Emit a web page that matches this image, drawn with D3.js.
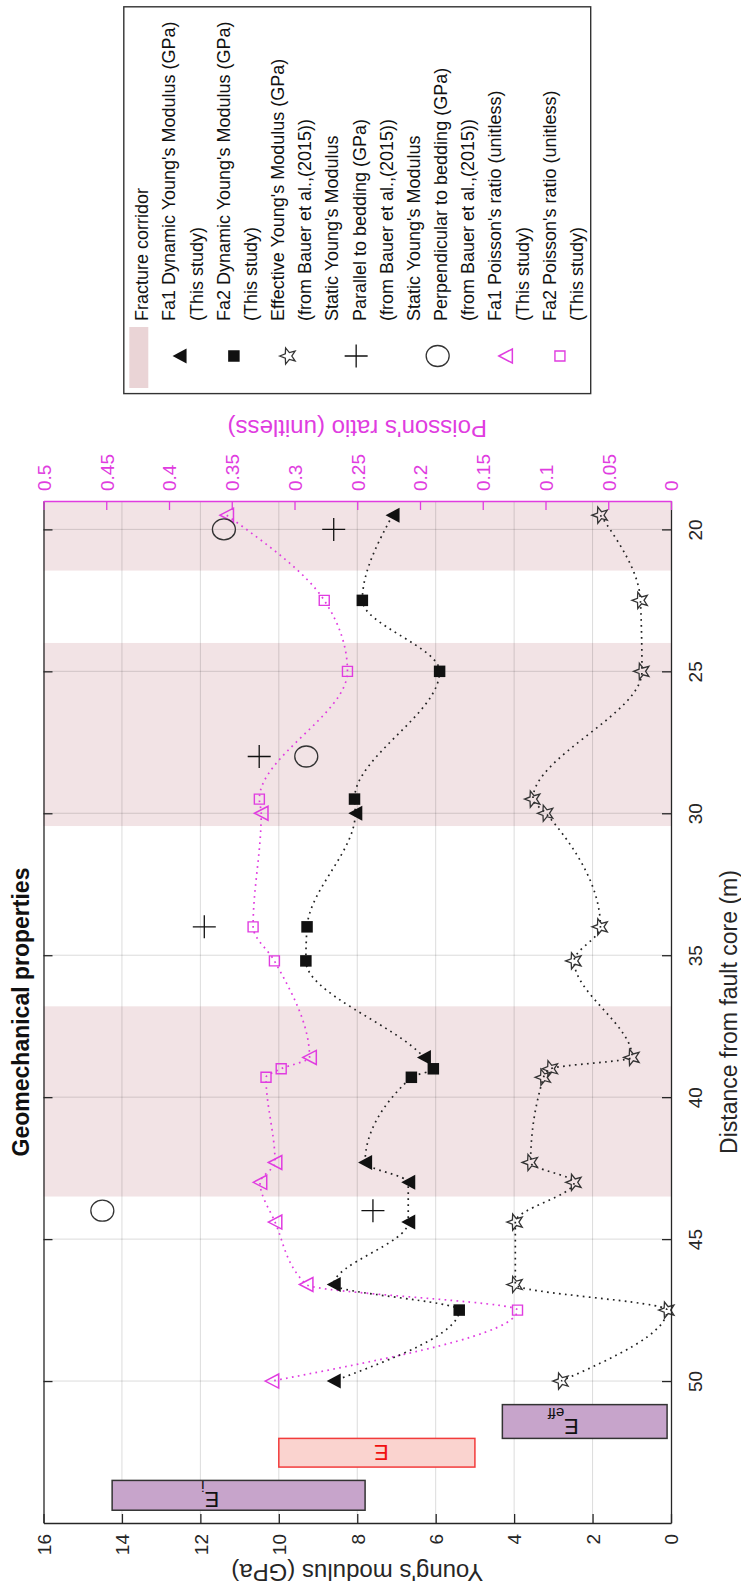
<!DOCTYPE html>
<html>
<head>
<meta charset="utf-8">
<script src="https://cdn.jsdelivr.net/npm/d3@7"></script>
<style>
  html, body { margin: 0; padding: 0; background: #fff; }
  svg { display: block; }
  text { font-family: "Liberation Sans", Arial, Helvetica, sans-serif; }
</style>
</head>
<body>
<svg id="chart" width="741" height="1591"></svg>
<script>
// ---------------- data ----------------
const distTicks = [20, 25, 30, 35, 40, 45, 50];
const youngTicks = [0, 2, 4, 6, 8, 10, 12, 14, 16];
const poissonTicks = [0, 0.05, 0.1, 0.15, 0.2, 0.25, 0.3, 0.35, 0.4, 0.45, 0.5];
const poissonTickLabels = ["0", "0.05", "0.1", "0.15", "0.2", "0.25", "0.3", "0.35", "0.4", "0.45", "0.5"];

// fracture corridors (distance from fault core, m)
const corridorFrom = [19, 24, 36.8];
const corridorTo = [21.45, 30.45, 43.5];

// Fa1 / Fa2 dynamic Young's modulus (GPa)
const fa1Dist = [19.5, 30, 38.6, 42.3, 43, 44.4, 46.6, 50];
const fa1E = [7.1, 8.05, 6.3, 7.8, 6.7, 6.7, 8.6, 8.6];
const fa2Dist = [22.5, 25, 29.5, 34, 35.2, 39, 39.3, 47.5];
const fa2E = [7.87, 5.9, 8.07, 9.28, 9.31, 6.06, 6.62, 5.4];

// Effective Young's modulus (GPa)
const effDist = [19.5, 22.5, 25, 29.5, 30, 34, 35.2, 38.6, 39, 39.3, 42.3, 43, 44.4, 46.6, 47.5, 50];
const effE = [1.8, 0.78, 0.74, 3.52, 3.19, 1.8, 2.47, 0.99, 3.07, 3.25, 3.58, 2.47, 3.97, 3.97, 0.1, 2.8];

// Static Young's modulus (Bauer et al. 2015)
const staticParDist = [20, 28, 34, 44];
const staticParE = [8.6, 10.5, 11.9, 7.6];
const staticPerpDist = [20, 28, 44];
const staticPerpE = [11.4, 9.3, 14.5];

// Poisson's ratio (unitless)
const fa1Nu = [0.354, 0.3265, 0.288, 0.3155, 0.3275, 0.3155, 0.2907, 0.318];
const fa2Nu = [0.2763, 0.2578, 0.328, 0.333, 0.316, 0.3106, 0.3227, 0.1223];

// modulus range boxes
const rangeNames = ["E", "E", "E"];
const rangeSubs = ["eff", "", "i"];
const rangeLow = [0.1, 5.0, 7.8];
const rangeHigh = [4.3, 10.0, 14.25];
const rangeDistFrom = [50.83, 52.02, 53.5];
const rangeDistTo = [52.02, 53.03, 54.55];
const rangeLabelAt = [2.35, 7.2, 11.52];

// legend
const legendLabels = [
  ["Fracture corridor"],
  ["Fa1 Dynamic Young's Modulus (GPa)", "(This study)"],
  ["Fa2 Dynamic Young's Modulus (GPa)", "(This study)"],
  ["Effective Young's Modulus (GPa)", "(from Bauer et al.,(2015))"],
  ["Static Young's Modulus", "Parallel to bedding (GPa)", "(from Bauer et al.,(2015))"],
  ["Static Young's Modulus", "Perpendicular to bedding (GPa)", "(from Bauer et al.,(2015))"],
  ["Fa1 Poisson's ratio (unitless)", "(This study)"],
  ["Fa2 Poisson's ratio (unitless)", "(This study)"]
];
const legendSymbols = ["patch", "triFill", "sqFill", "star", "plus", "circle", "triPink", "sqPink"];

// ---------------- layout & styles ----------------
const plot = { left: 43.5, right: 671, top: 501, bottom: 1523 };
const INK = "#262626";
const MAG = "#e03ce0";
const BAND = "#f2e3e5";
const FONT_TICK = 19;

const svg = d3.select("#chart");
const yD = d3.scaleLinear().domain([19, 55]).range([plot.top, plot.bottom]);
const xE = d3.scaleLinear().domain([0, 16]).range([plot.right, plot.left]);
const xNu = d3.scaleLinear().domain([0, 0.5]).range([plot.right, plot.left]);

// marker path builders (local coords centred at 0,0)
function triLeft(w, h) { return `M${-w/2},0L${w/2},${-h/2}L${w/2},${h/2}Z`; }
function square(s) { return `M${-s/2},${-s/2}h${s}v${s}h${-s}Z`; }
function star(R, r) {
  const p = d3.path();
  for (let k = 0; k < 10; k++) {
    const rad = k % 2 === 0 ? R : r;
    const a = Math.PI + k * Math.PI / 5;
    const x = rad * Math.cos(a), y = rad * Math.sin(a);
    if (k === 0) p.moveTo(x, y); else p.lineTo(x, y);
  }
  p.closePath();
  return p.toString();
}
function plus(s) { return `M${-s/2},0H${s/2}M0,${-s/2}V${s/2}`; }

function drawMarker(g, type, x, y) {
  const t = `translate(${x},${y})`;
  switch (type) {
    case "triFill": g.append("path").attr("d", triLeft(14, 15)).attr("transform", t).attr("fill", "#111"); break;
    case "sqFill": g.append("path").attr("d", square(11.5)).attr("transform", t).attr("fill", "#111"); break;
    case "star": g.append("path").attr("d", star(8.5, 3.6)).attr("transform", t).attr("fill", "none").attr("stroke", "#333").attr("stroke-width", 1.3).attr("stroke-linejoin", "miter"); break;
    case "plus": g.append("path").attr("d", plus(23)).attr("transform", t).attr("stroke", "#111").attr("stroke-width", 1.3).attr("fill", "none"); break;
    case "circle": g.append("ellipse").attr("cx", x).attr("cy", y).attr("rx", 11.5).attr("ry", 10.5).attr("fill", "none").attr("stroke", "#333").attr("stroke-width", 1.3); break;
    case "triPink": g.append("path").attr("d", triLeft(13.5, 14)).attr("transform", t).attr("fill", "none").attr("stroke", MAG).attr("stroke-width", 1.5); break;
    case "sqPink": g.append("path").attr("d", square(10)).attr("transform", t).attr("fill", "none").attr("stroke", MAG).attr("stroke-width", 1.4); break;
  }
}

// ---------------- bands ----------------
const gBands = svg.append("g");
corridorFrom.forEach((d0, i) => {
  gBands.append("rect")
    .attr("x", plot.left).attr("width", plot.right - plot.left)
    .attr("y", yD(d0)).attr("height", yD(corridorTo[i]) - yD(d0))
    .attr("fill", BAND);
});

// ---------------- grid ----------------
const gGrid = svg.append("g").attr("stroke", "#000").attr("stroke-opacity", 0.14).attr("stroke-width", 1);
youngTicks.filter(v => v > 0 && v < 16).forEach(v => {
  gGrid.append("line").attr("x1", xE(v)).attr("x2", xE(v)).attr("y1", plot.top).attr("y2", plot.bottom);
});
distTicks.forEach(d => {
  gGrid.append("line").attr("y1", yD(d)).attr("y2", yD(d)).attr("x1", plot.left).attr("x2", plot.right);
});

// ---------------- range boxes ----------------
const gRange = svg.append("g");
rangeNames.forEach((nm, i) => {
  const red = rangeSubs[i] === "";
  gRange.append("rect")
    .attr("x", xE(rangeHigh[i])).attr("width", xE(rangeLow[i]) - xE(rangeHigh[i]))
    .attr("y", yD(rangeDistFrom[i])).attr("height", yD(rangeDistTo[i]) - yD(rangeDistFrom[i]))
    .attr("fill", red ? "#fad3cf" : "#c7a4cb")
    .attr("stroke", red ? "#f23b3b" : "#333").attr("stroke-width", 1.5);
  const cy = (yD(rangeDistFrom[i]) + yD(rangeDistTo[i])) / 2 + (red ? 0 : 5);
  const t = gRange.append("text")
    .attr("transform", `translate(${xE(rangeLabelAt[i])},${cy}) rotate(180)`)
    .attr("dy", "0.36em").attr("font-size", 22)
    .attr("fill", red ? "#f01010" : "#111");
  t.append("tspan").text(nm);
  if (rangeSubs[i]) t.append("tspan").attr("dy", 11).attr("font-size", 15).text(rangeSubs[i]);
});

// ---------------- curves ----------------
const dynPts = fa1Dist.map((d, i) => ({ d, v: fa1E[i] }))
  .concat(fa2Dist.map((d, i) => ({ d, v: fa2E[i] })))
  .sort((a, b) => a.d - b.d);
const nuPts = fa1Dist.map((d, i) => ({ d, v: fa1Nu[i] }))
  .concat(fa2Dist.map((d, i) => ({ d, v: fa2Nu[i] })))
  .sort((a, b) => a.d - b.d);
const effPts = effDist.map((d, i) => ({ d, v: effE[i] }));

const lineE = d3.line().x(p => xE(p.v)).y(p => yD(p.d)).curve(d3.curveMonotoneY);
const lineNu = d3.line().x(p => xNu(p.v)).y(p => yD(p.d)).curve(d3.curveMonotoneY);

const gLines = svg.append("g").attr("fill", "none").attr("stroke-width", 1.7)
  .attr("stroke-dasharray", "1.7 4.3");
gLines.append("path").attr("d", lineNu(nuPts)).attr("stroke", MAG);
gLines.append("path").attr("d", lineE(dynPts)).attr("stroke", "#222");
gLines.append("path").attr("d", lineE(effPts)).attr("stroke", "#222");

// ---------------- markers ----------------
const gM = svg.append("g");
effDist.forEach((d, i) => drawMarker(gM, "star", xE(effE[i]), yD(d)));
fa2Dist.forEach((d, i) => drawMarker(gM, "sqPink", xNu(fa2Nu[i]), yD(d)));
fa1Dist.forEach((d, i) => drawMarker(gM, "triPink", xNu(fa1Nu[i]), yD(d)));
fa2Dist.forEach((d, i) => drawMarker(gM, "sqFill", xE(fa2E[i]), yD(d)));
fa1Dist.forEach((d, i) => drawMarker(gM, "triFill", xE(fa1E[i]), yD(d)));
staticParDist.forEach((d, i) => drawMarker(gM, "plus", xE(staticParE[i]), yD(d)));
staticPerpDist.forEach((d, i) => drawMarker(gM, "circle", xE(staticPerpE[i]), yD(d)));

// ---------------- axes ----------------
function styleAxis(g, color) {
  g.attr("font-size", FONT_TICK).attr("font-family", null).attr("color", color);
  g.selectAll("path, line").attr("stroke-width", 1.3);
}
// right: distance axis
const axR = svg.append("g").attr("transform", `translate(${plot.right},0)`)
  .call(d3.axisRight(yD).tickValues(distTicks).tickSizeInner(-9).tickSizeOuter(0).tickPadding(24));
styleAxis(axR, INK);
axR.selectAll(".tick text").attr("x", null).attr("dy", "0.36em")
  .attr("transform", "translate(24,0) rotate(-90)").attr("text-anchor", "middle");
// left frame with ticks
const axL = svg.append("g").attr("transform", `translate(${plot.left},0)`)
  .call(d3.axisRight(yD).tickValues(distTicks).tickSize(9).tickSizeOuter(0).tickFormat(""));
styleAxis(axL, INK);
// bottom: Young's modulus
const axB = svg.append("g").attr("transform", `translate(0,${plot.bottom})`)
  .call(d3.axisBottom(xE).tickValues(youngTicks).tickSizeInner(-9).tickSizeOuter(0).tickPadding(11));
styleAxis(axB, INK);
axB.selectAll(".tick text").attr("y", null).attr("dy", "0.36em")
  .attr("transform", "translate(0,11) rotate(-90)").attr("text-anchor", "end");
// top: Poisson's ratio
const axT = svg.append("g").attr("transform", `translate(0,${plot.top})`)
  .call(d3.axisTop(xNu).tickValues(poissonTicks).tickSizeInner(-9).tickSizeOuter(0)
    .tickFormat((v, i) => poissonTickLabels[i]));
styleAxis(axT, MAG);
axT.selectAll(".tick text").attr("y", null).attr("dy", "0.36em")
  .attr("transform", "translate(0,-10) rotate(-90)").attr("text-anchor", "start");

// ---------------- axis titles ----------------
const cx = (plot.left + plot.right) / 2, cyP = (plot.top + plot.bottom) / 2;
svg.append("text").attr("transform", `translate(21,${cyP}) rotate(-90)`)
  .attr("text-anchor", "middle").attr("dy", "0.36em").attr("font-size", 23).attr("font-weight", "bold")
  .attr("fill", "#111").text("Geomechanical properties");
svg.append("text").attr("transform", `translate(729,${cyP}) rotate(-90)`)
  .attr("text-anchor", "middle").attr("dy", "0.36em").attr("font-size", 23)
  .attr("fill", INK).text("Distance from fault core (m)");
svg.append("text").attr("transform", `translate(${cx},1573) rotate(180)`)
  .attr("text-anchor", "middle").attr("dy", "0.36em").attr("font-size", 24)
  .attr("fill", INK).text("Young's modulus (GPa)");
svg.append("text").attr("transform", `translate(${cx},429) rotate(180)`)
  .attr("text-anchor", "middle").attr("dy", "0.36em").attr("font-size", 24)
  .attr("fill", MAG).text("Poisson's ratio (unitless)");

// ---------------- legend ----------------
const gLeg = svg.append("g");
gLeg.append("rect").attr("x", 123.8).attr("y", 6.8).attr("width", 466.9).attr("height", 386.8)
  .attr("fill", "#fff").attr("stroke", "#333").attr("stroke-width", 1.4);
const lineX0 = 141.8, lineStep = 27.17, textY = 321, symY = 356;
let li = 0;
legendLabels.forEach((lines, e) => {
  const xs = [];
  lines.forEach(s => {
    const x = lineX0 + li * lineStep;
    xs.push(x);
    gLeg.append("text").attr("transform", `translate(${x},${textY}) rotate(-90)`)
      .attr("dy", "0.36em").attr("font-size", 18).attr("fill", "#111").text(s);
    li++;
  });
  const sx = d3.mean(xs) - 3;
  if (legendSymbols[e] === "patch") {
    gLeg.append("rect").attr("x", sx - 9.5).attr("y", 327).attr("width", 19).attr("height", 61)
      .attr("fill", "#ead4d6");
  } else {
    drawMarker(gLeg, legendSymbols[e], sx, symY);
  }
});
</script>
</body>
</html>
